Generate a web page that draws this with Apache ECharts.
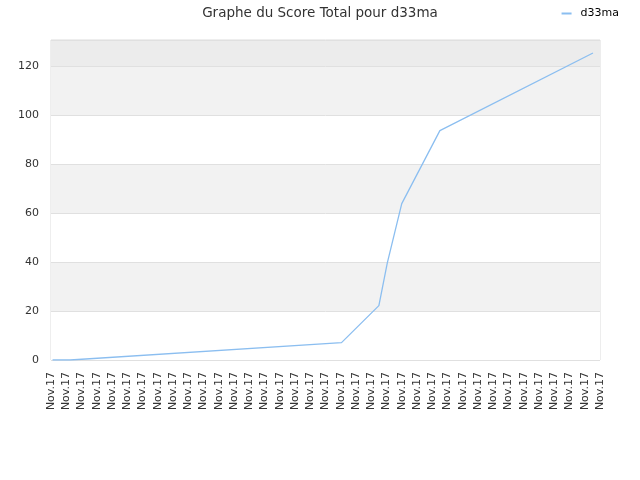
<!DOCTYPE html>
<html>
<head>
<meta charset="utf-8">
<script src="https://cdn.jsdelivr.net/npm/echarts@6/dist/echarts.min.js"></script>
<style>html,body{margin:0;padding:0;background:#fff}#c{width:640px;height:480px}</style>
</head>
<body>
<div id="c"></div>
<script>
var tickLabels = ['Nov.17','Nov.17','Nov.17','Nov.17','Nov.17','Nov.17','Nov.17','Nov.17','Nov.17','Nov.17','Nov.17','Nov.17','Nov.17','Nov.17','Nov.17','Nov.17','Nov.17','Nov.17','Nov.17','Nov.17','Nov.17','Nov.17','Nov.17','Nov.17','Nov.17','Nov.17','Nov.17','Nov.17','Nov.17','Nov.17','Nov.17','Nov.17','Nov.17','Nov.17','Nov.17','Nov.17','Nov.17'];
var xPositions = [0.1, 1.25, 19.05, 21.5, 22.05, 23.0, 25.5, 35.54];
var scoreValues = [0, 0, 7.1, 22.2, 39.5, 63.8, 93.6, 125.3];
var seriesName = 'd33ma';
var titleText = 'Graphe du Score Total pour d33ma';

var data = xPositions.map(function (x, i) { return [x, scoreValues[i]]; });

var chart = echarts.init(document.getElementById('c'), null, {renderer: 'canvas'});
chart.setOption({
  animation: false,
  textStyle: {fontFamily: 'DejaVu Sans'},
  title: {
    text: titleText, left: 'center', top: 1,
    textStyle: {fontFamily: 'DejaVu Sans', fontSize: 13.5, fontWeight: 'normal', color: '#333'}
  },
  legend: {
    right: 16, top: 3, icon: 'rect', itemWidth: 10, itemHeight: 2,
    textStyle: {fontFamily: 'DejaVu Sans', fontSize: 11, color: '#000', padding: [0, 0, 0, 4]},
    data: [seriesName]
  },
  grid: {left: 51, right: 40, top: 40, bottom: 120, show: true, borderColor: '#dcdcdc', borderWidth: 1},
  xAxis: {
    type: 'value', min: 0, max: tickLabels.length - 1, interval: 1,
    axisLine: {show: false}, axisTick: {show: false}, splitLine: {show: false},
    axisLabel: {
      rotate: 90, margin: 12, fontSize: 11, color: '#333', fontFamily: 'DejaVu Sans',
      showMinLabel: true, showMaxLabel: true, hideOverlap: false,
      formatter: function (v) { return tickLabels[Math.round(v)] || ''; }
    }
  },
  yAxis: {
    type: 'value', min: 0, max: 130.6, interval: 20,
    axisLine: {show: false}, axisTick: {show: false},
    axisLabel: {
      margin: 12, fontSize: 11, color: '#333', fontFamily: 'DejaVu Sans',
      showMaxLabel: true,
      formatter: function (v) { return (Math.abs(v % 20) < 1e-6) ? String(v) : ''; }
    },
    splitLine: {show: true, lineStyle: {color: '#e0e0e0', width: 1}},
    splitArea: {show: true, areaStyle: {color: ['#ffffff', '#f2f2f2', '#ffffff', '#f2f2f2', '#ffffff', '#f2f2f2', '#ececec']}}
  },
  series: [{
    name: seriesName, type: 'line', data: data,
    showSymbol: false, symbol: 'none',
    lineStyle: {color: '#8bbef0', width: 1.3},
    itemStyle: {color: '#8bbef0'}
  }]
});
</script>
</body>
</html>
